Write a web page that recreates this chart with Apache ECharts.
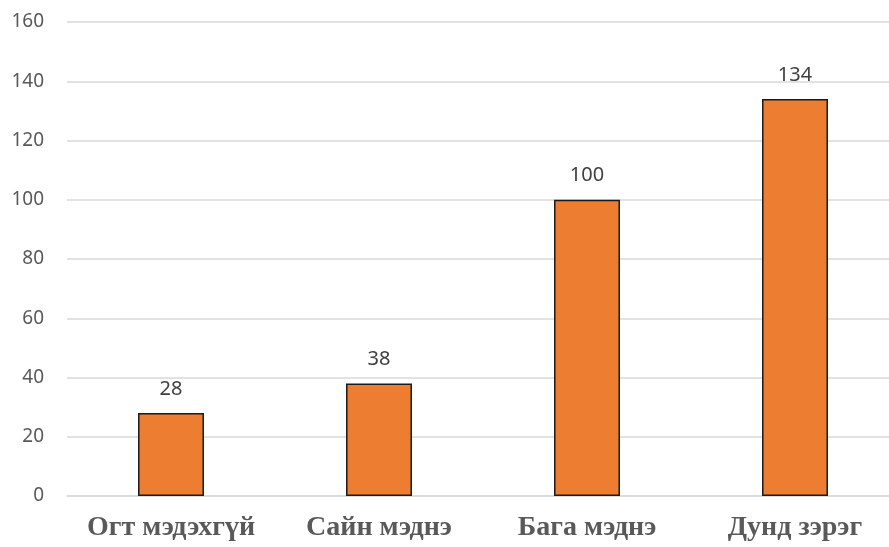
<!DOCTYPE html>
<html><head><meta charset="utf-8">
<script src="https://cdn.jsdelivr.net/npm/echarts@6/dist/echarts.min.js"></script>
<style>html,body{margin:0;padding:0;background:#fff;overflow:hidden;width:889px;height:547px}#c{width:910px;height:547px}</style>
</head><body><div id="c"></div>
<script>
const categories = ["Огт мэдэхгүй", "Сайн мэднэ", "Бага мэднэ", "Дунд зэрэг"];
const values = [28, 38, 100, 134];
const yTicks = [0, 20, 40, 60, 80, 100, 120, 140, 160];

const chart = echarts.init(document.getElementById('c'), null, {renderer: 'canvas'});
chart.setOption({
  animation: false,
  grid: {left: 67, top: 22, width: 832, height: 474, containLabel: false},
  xAxis: {
    type: 'category', data: categories,
    axisLine: {show: true, lineStyle: {color: '#d9d9d9', width: 1.5}},
    axisTick: {show: false},
    axisLabel: {interval: 0, hideOverlap: false, margin: 18, color: '#595959', fontFamily: 'Liberation Serif', fontWeight: 'bold', fontSize: 28}
  },
  yAxis: {
    type: 'value', min: yTicks[0], max: yTicks[yTicks.length - 1], interval: 20,
    axisLine: {show: false}, axisTick: {show: false},
    splitLine: {lineStyle: {color: '#d9d9d9', width: 1.5}},
    axisLabel: {margin: 23, color: '#595959', fontFamily: 'Noto Sans', fontSize: 19}
  },
  series: [{
    type: 'bar', data: values, barWidth: '31.7%',
    itemStyle: {color: '#ED7D31', borderColor: '#1a1a1a', borderWidth: 1.5},
    label: {show: true, position: 'top', distance: 14, color: '#404040', fontFamily: 'Noto Sans', fontSize: 20}
  }]
});
</script></body></html>
